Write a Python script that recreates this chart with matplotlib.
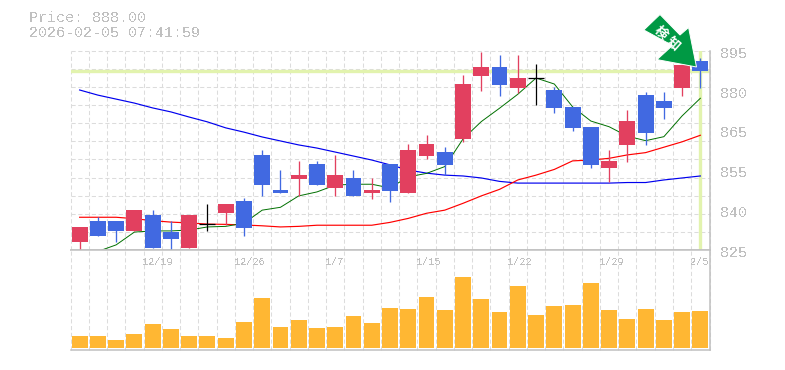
import matplotlib
matplotlib.use("Agg")
import matplotlib.pyplot as plt
from matplotlib.patches import Polygon
import numpy as np

W, H = 785, 370

opens = [827.8, 835.2, 835.2, 831.7, 837.3, 831.3, 825.7, 834.0, 838.0, 842.2, 858.4, 846.1,
         849.9, 855.2, 846.8, 850.3, 845.0, 855.2, 845.0, 858.0, 859.4, 864.0, 886.1, 889.3,
         881.9, 885.4, 881.2, 875.2, 868.2, 853.8, 861.9, 879.4, 877.3, 881.9, 891.4]
closes = [833.1, 829.9, 831.7, 839.0, 825.7, 828.9, 837.3, 834.0, 841.2, 832.7, 847.8, 845.0,
          851.3, 847.8, 851.3, 844.0, 846.1, 845.7, 860.1, 862.2, 854.9, 883.3, 889.3, 883.0,
          885.4, 885.4, 874.9, 867.9, 854.9, 856.3, 870.3, 866.1, 874.9, 890.0, 888.0]
highs = [833.1, 836.5, 835.2, 839.0, 839.0, 835.2, 837.3, 841.2, 841.2, 843.3, 860.1, 853.1,
         856.3, 856.3, 858.4, 853.1, 850.3, 855.2, 862.2, 865.4, 861.2, 886.5, 894.5, 893.5,
         893.5, 890.3, 882.3, 875.2, 868.2, 860.1, 874.2, 880.5, 880.5, 890.0, 892.4]
lows = [825.0, 829.9, 827.8, 831.7, 825.7, 825.0, 825.7, 831.7, 833.8, 829.9, 844.0, 845.0,
        844.0, 847.8, 844.0, 844.0, 842.9, 841.9, 845.0, 857.0, 851.3, 862.9, 880.8, 879.1,
        880.1, 875.9, 873.1, 866.8, 853.8, 848.9, 855.9, 861.9, 871.0, 879.1, 881.9]

ma_long = [881.2, 879.4, 878.0, 876.6, 874.9, 873.5, 871.7, 870.0, 867.9, 866.4, 864.7, 863.3,
           861.9, 860.8, 859.4, 858.0, 856.6, 854.9, 853.1, 852.0, 851.3, 851.0, 850.3, 849.1,
           848.5, 848.5, 848.5, 848.5, 848.5, 848.5, 848.7, 848.7, 849.6, 850.3, 851.0]
ma_mid = [836.5, 836.5, 836.5, 836.0, 835.3, 834.8, 834.5, 834.1, 834.0, 833.8, 833.5, 833.1,
          833.3, 833.7, 833.7, 833.7, 833.7, 834.7, 836.1, 837.9, 839.0, 841.4, 844.0, 846.3,
          849.6, 851.3, 853.3, 856.3, 856.6, 857.2, 858.4, 859.2, 861.1, 863.0, 865.3]
ma_short = [824.5, 826.8, 831.3, 831.7, 831.7, 832.0, 833.1, 833.3, 834.4, 839.0, 840.0, 844.0,
            845.4, 847.8, 848.1, 848.1, 846.8, 850.7, 851.9, 854.3, 864.0, 870.1, 874.8, 879.7,
            885.4, 883.3, 875.3, 870.3, 868.3, 865.0, 863.4, 864.8, 872.1, 878.3]
volumes = [12, 12, 8, 14, 24, 19, 12, 12, 10, 26, 50, 21, 28, 20, 21, 32, 25, 40,
           39, 51, 38, 71, 49, 36, 62, 33, 42, 43, 65, 38, 29, 39, 28, 36, 37]

date_idx = [4, 9, 14, 19, 24, 29, 34]
date_labels = ["12/19", "12/26", "1/7", "1/15", "1/22", "1/29", "2/5"]
price_labels = ["825", "840", "855", "865", "880", "895"]
last_price = 888.0

GRAY = "#c0c0c0"
GRID = "#dcdcdc"
AXIS = "#c0c0c0"
RED = "#e2405f"
BLUE = "#4169e1"
PALE = "#e2f3ae"
ORANGE = "#ffb733"
MONO = "Liberation Mono"


def rect(x0, y0, x1, y1):
    return [x0 / W, 1 - y1 / H, (x1 - x0) / W, (y1 - y0) / H]


fig = plt.figure(figsize=(W / 100, H / 100), dpi=100)
ax = fig.add_axes(rect(70.5, 50.7, 709.5, 250))
vol = fig.add_axes(rect(70.5, 250, 709.5, 350.3))

n = len(opens)
x = np.arange(n)
edges = np.arange(n + 1) - 0.5

for a in (ax, vol):
    a.set_xlim(-0.5, n - 0.5)
    a.set_xticks(edges)
    a.tick_params(length=0, labelbottom=False, labelleft=False)
    a.grid(axis="x", color=GRID, lw=0.75, ls=(0, (4, 2.5)))
    a.set_axisbelow(True)
    a.spines["left"].set_visible(False)
    for s in ("top", "bottom", "right"):
        a.spines[s].set_color(AXIS)
        a.spines[s].set_linewidth(1.1)
    for g in a.get_xgridlines():
        g.set_clip_on(False)
ax.spines["top"].set_visible(False)

ax.set_ylim(825, 895)
ax.set_yticks(np.linspace(825, 895, 12))
ax.grid(axis="y", color=GRID, lw=0.75, ls=(0, (4, 2.5)))
for g in ax.get_ygridlines():
    g.set_clip_on(False)

# last price cross
ax.axhline(last_price, color=PALE, lw=2.4, zorder=1)
ax.axvline(x[-1], color=PALE, lw=2.4, zorder=1)

ax.plot(x, ma_long, color="#0000ee", lw=0.85, zorder=2)
ax.plot(x, ma_mid, color="#ff0000", lw=0.85, zorder=2)
ax.plot(x[1:], ma_short, color="#007000", lw=0.7, zorder=2, clip_on=False)

for i in x:
    c = BLUE if closes[i] < opens[i] else RED
    if closes[i] == opens[i]:
        ax.vlines(i, lows[i], highs[i], color="black", lw=0.9, zorder=4)
        ax.hlines(closes[i], i - 0.44, i + 0.44, color="black", lw=0.9, zorder=4)
        continue
    ax.vlines(i, lows[i], highs[i], color=c, lw=0.95, zorder=3)
    ax.bar(i, abs(closes[i] - opens[i]), bottom=min(opens[i], closes[i]), width=0.87,
           color=c, zorder=3, linewidth=0)

vol.set_ylim(-2.3, 98)
vol.set_yticks([])
vol.bar(x, volumes, width=0.87, color=ORANGE, linewidth=0, zorder=3)

for i, lab in zip(date_idx, date_labels):
    vol.annotate(lab, (i - 0.5, 1), xycoords=("data", "axes fraction"), xytext=(-1, -12),
                 textcoords="offset pixels", color=GRAY, fontsize=7.3, family=MONO,
                 va="center", ha="left", zorder=2, antialiased=False)

for p, lab in zip(np.linspace(825, 895, 6), price_labels):
    ax.annotate(lab, (1, p), xycoords=("axes fraction", "data"), xytext=(10.5, -3),
                textcoords="offset pixels", color=GRAY, fontsize=10.8, family=MONO,
                va="center", ha="left", annotation_clip=False, antialiased=False)

fig.text(29 / W, 1 - 18 / H, "Price: 888.00", color=GRAY, fontsize=10.8, family=MONO,
         va="center", antialiased=False)
fig.text(29 / W, 1 - 33 / H, "2026-02-05 07:41:59", color=GRAY, fontsize=10.8, family=MONO,
         va="center", antialiased=False)

# signal arrow
arrow_px = [(660, 14.5), (643.8, 30), (672.5, 45.5), (657, 59.6), (696.5, 67), (688.6, 27.5), (680, 35)]
arrow = Polygon([(px / W, 1 - py / H) for px, py in arrow_px], closed=True, transform=fig.transFigure,
                facecolor="#009944", edgecolor="white", lw=0.7, zorder=10)
fig.add_artist(arrow)
for cx, cy, ch in [(660.7, 32.7, "検"), (673.3, 43.3, "知")]:
    fig.text(cx / W, 1 - cy / H, ch, color="white", fontsize=9.5, fontweight="bold",
             family="Noto Sans CJK JP", rotation=-42, rotation_mode="anchor",
             ha="center", va="center", zorder=11)

fig.savefig("out.png", dpi=100)
